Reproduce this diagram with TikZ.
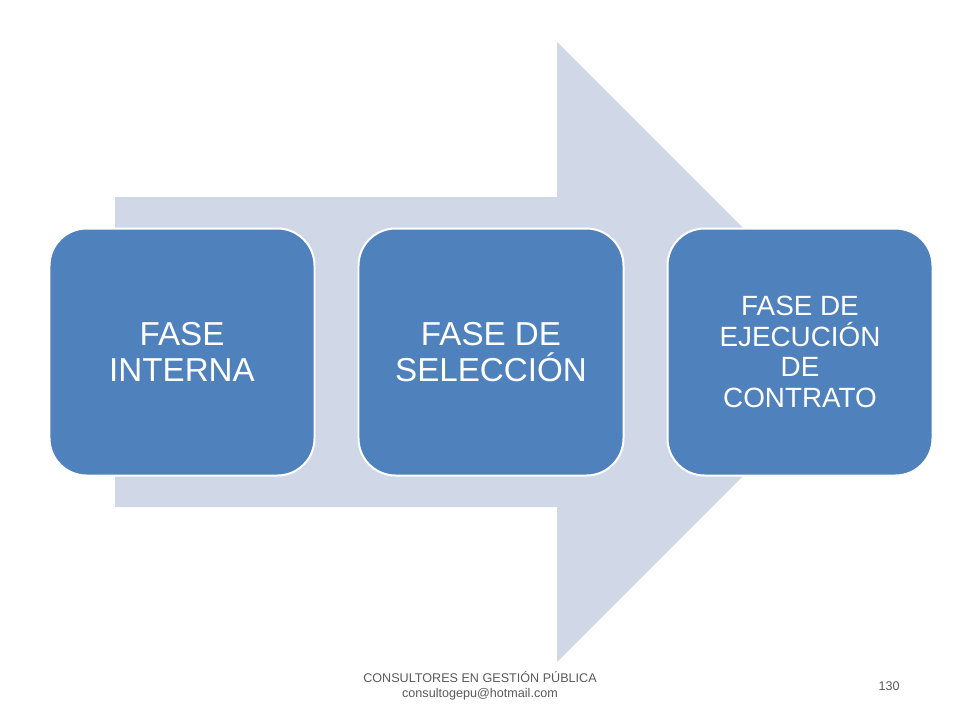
\documentclass[tikz,border=0pt]{standalone}
\usepackage{fontspec}
\setmainfont{Liberation Sans}
\usepackage{tikz}
\definecolor{phaseblue}{HTML}{4F81BD}
\definecolor{arrowgray}{HTML}{D0D8E8}
\definecolor{footgray}{HTML}{595959}

\begin{document}
\begin{tikzpicture}[x=0.0265cm,y=-0.0265cm]
        \tikzset{phase/.style = {draw=white,line width=1.5pt,fill=phaseblue,rounded corners=28pt,
            minimum width=265*0.0265cm,minimum height=247*0.0265cm,text=white,align=center,
            font=\fontsize{25}{27}\selectfont}}
        \tikzset{foot/.style = {text=footgray,font=\fontsize{9.5}{11.5}\selectfont,align=center}}
        \useasboundingbox (0,0) rectangle (960,720);
        % arrow
        \fill[arrowgray] (115,197) -- (557,197) -- (557,42) -- (867,352) -- (557,662)
            -- (557,507) -- (115,507) -- cycle;
        % phases
        \node[phase] (interna) at (182,352) {FASE\\INTERNA};
        \node[phase] (seleccion) at (491,352) {FASE DE\\SELECCIÓN};
        \node[phase,font=\fontsize{21}{23}\selectfont] (ejecucion) at (800,352)
            {FASE DE\\EJECUCIÓN\\DE\\CONTRATO};
        % footer
        \node[foot] (consult) at (480,686) {CONSULTORES EN GESTIÓN PÚBLICA\\consultogepu@hotmail.com};
        \node[foot] (page) at (889,686) {130};
\end{tikzpicture}
\end{document}
